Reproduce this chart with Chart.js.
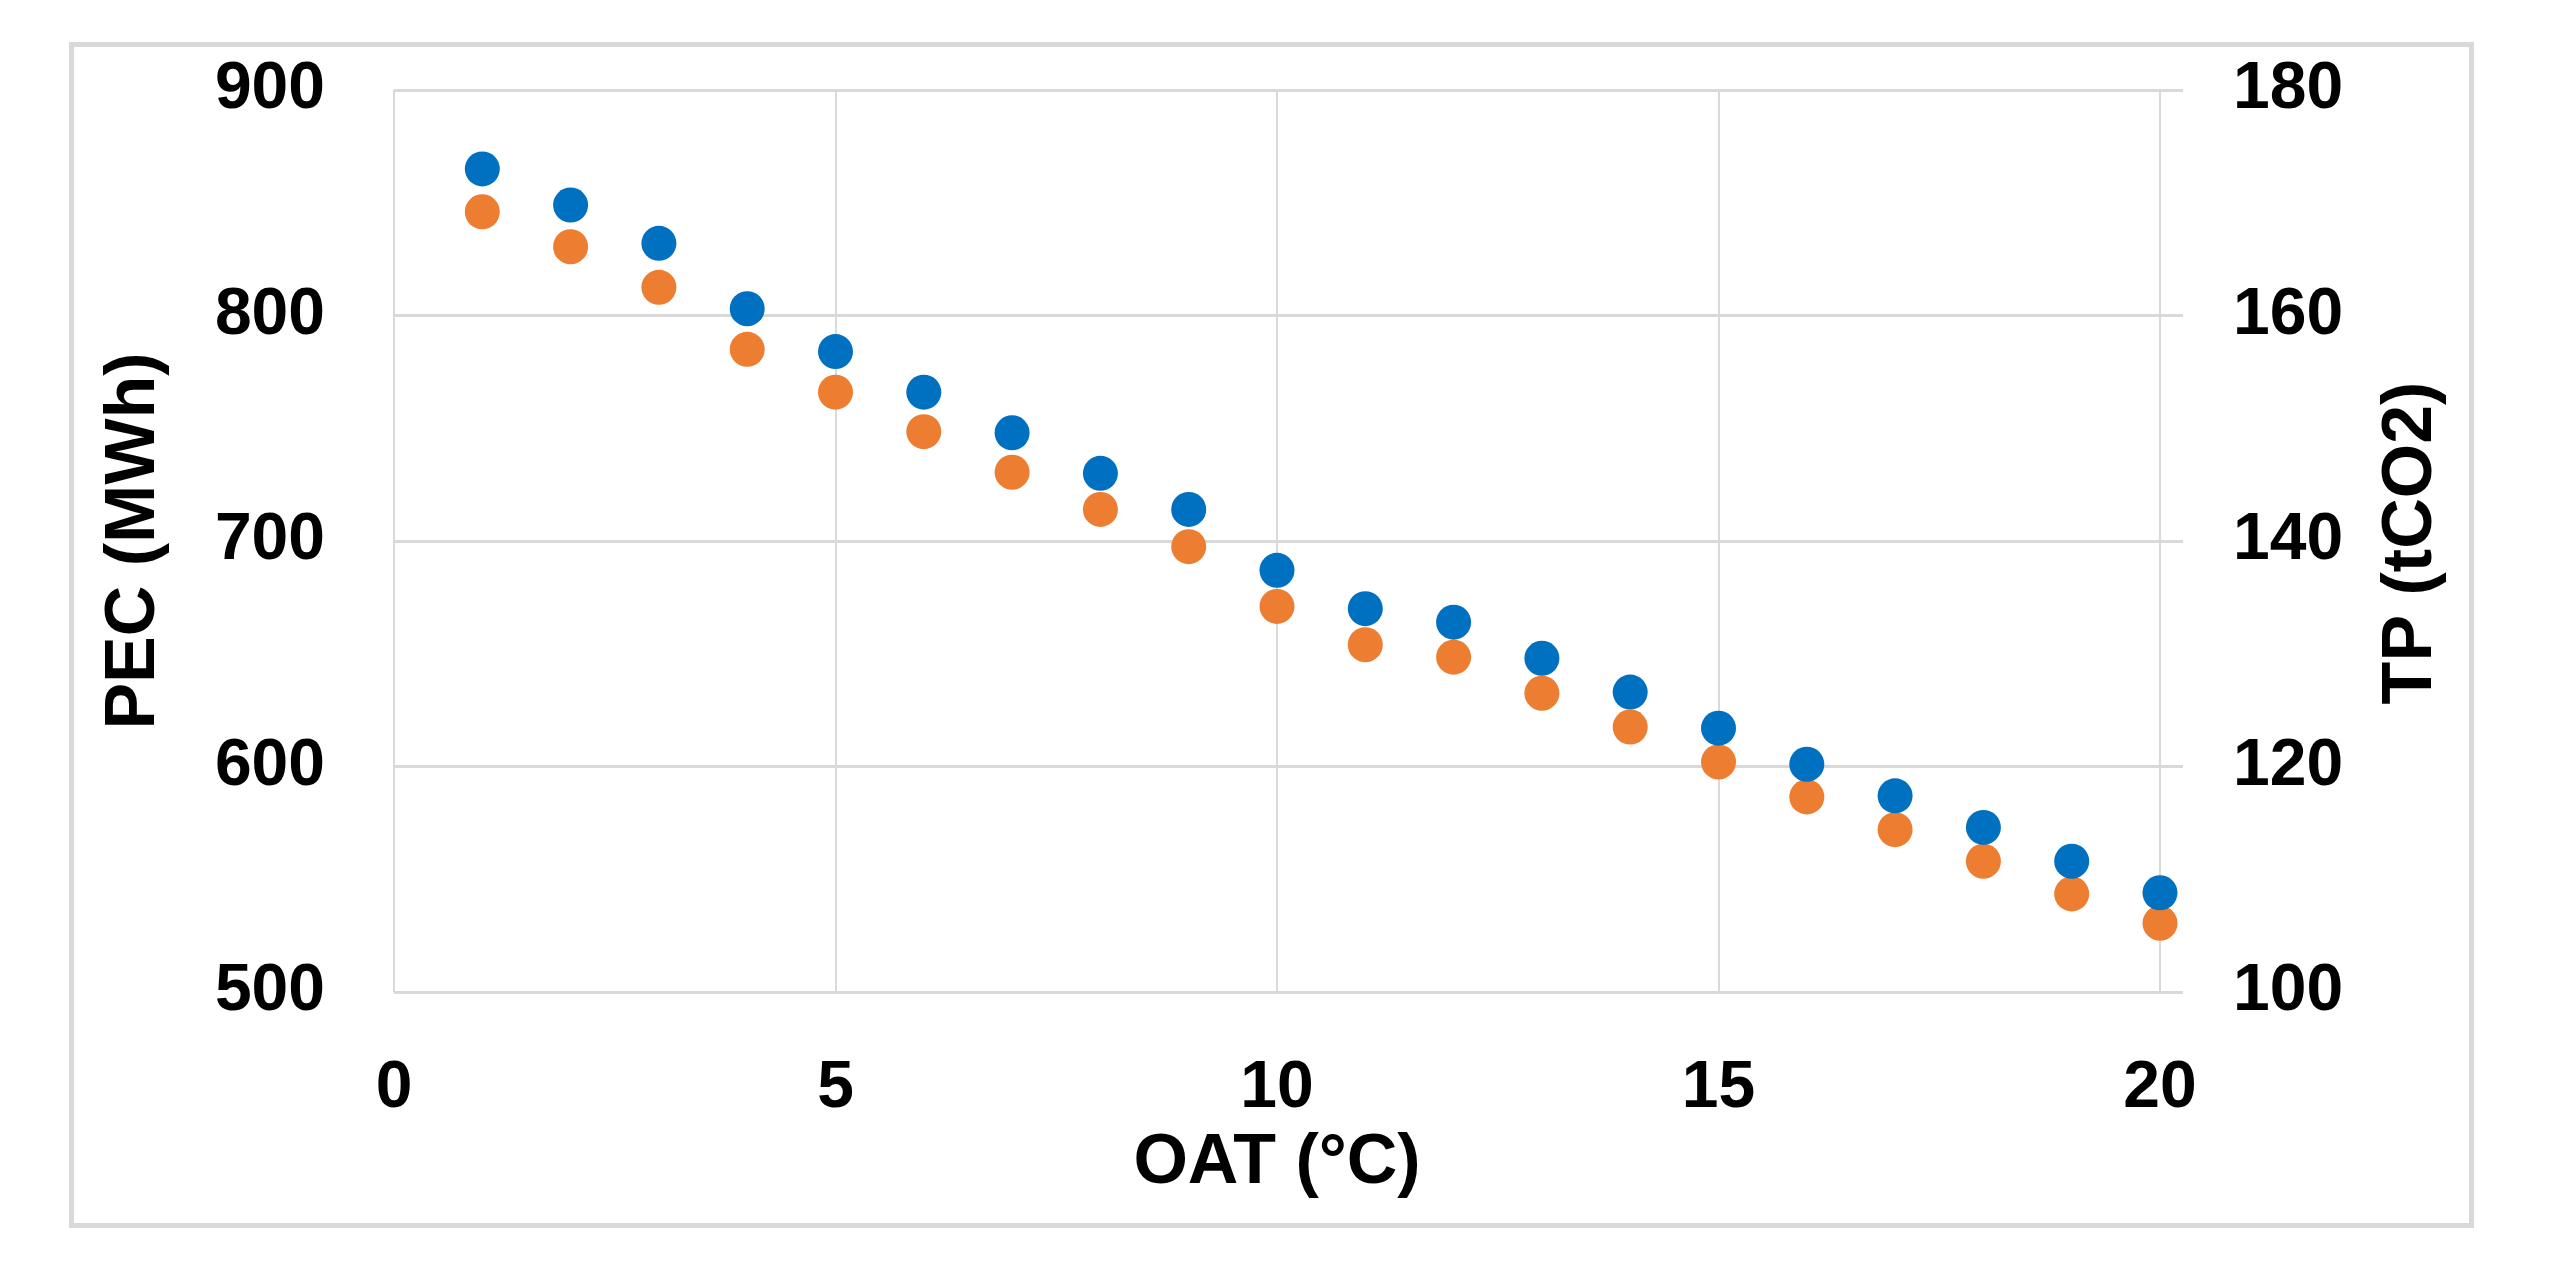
<!DOCTYPE html>
<html>
<head>
<meta charset="utf-8">
<script src="https://cdn.jsdelivr.net/npm/chart.js@4.4.1/dist/chart.umd.min.js"></script>
<style>
  html, body { margin: 0; padding: 0; background: #ffffff; }
  #wrap { position: relative; width: 2558px; height: 1266px; }
  #frame { position: absolute; left: 69px; top: 42px; width: 2405px; height: 1186px;
           border: 5px solid #d9d9d9; box-sizing: border-box; pointer-events: none; }
  canvas { position: absolute; left: 0; top: 0; }
</style>
</head>
<body>
<div id="wrap">
  <canvas id="c" width="2558" height="1266"></canvas>
  <div id="frame"></div>
</div>
<script>
// ---- data ----
const oat = [1, 2, 3, 4, 5, 6, 7, 8, 9, 10, 11, 12, 13, 14, 15, 16, 17, 18, 19, 20];
const pec = [865, 849, 832, 803, 784, 766, 748, 730, 714, 687, 670, 664, 648, 633, 617, 601, 587, 573, 558, 544];
const tp  = [169.2, 166.1, 162.5, 157.0, 153.2, 149.7, 146.1, 142.8, 139.5, 134.2, 130.8, 129.7, 126.5, 123.5, 120.4, 117.3, 114.4, 111.6, 108.7, 106.1];

const xTitle = 'OAT (°C)';
const yLeftTitle = 'PEC (MWh)';
const yRightTitle = 'TP (tCO2)';
const xRange = { min: 0, max: 20, step: 5 };
const pecRange = { min: 500, max: 900, step: 100 };
const tpRange = { min: 100, max: 180, step: 20 };

const FONT = '"Liberation Sans", Arial, sans-serif';
const GRID = '#d9d9d9';

const pecPts = oat.map((x, i) => ({ x: x, y: pec[i] }));
const tpPts = oat.map((x, i) => ({ x: x, y: tp[i] }));

const rightTitlePlugin = {
  id: 'rightTitle',
  afterDraw(chart) {
    const s = chart.scales.y1;
    const ctx = chart.ctx;
    ctx.save();
    ctx.translate(s.right - 146, (s.top + s.bottom) / 2 + 2);
    ctx.rotate(-Math.PI / 2);
    ctx.font = 'bold 70px ' + FONT;
    ctx.fillStyle = '#000000';
    ctx.textAlign = 'center';
    ctx.textBaseline = 'middle';
    ctx.fillText(yRightTitle, 0, 0);
    ctx.restore();
  }
};

new Chart(document.getElementById('c'), {
  type: 'scatter',
  data: {
    datasets: [
      { label: 'PEC', data: pecPts, yAxisID: 'y', backgroundColor: '#0070C0',
        borderWidth: 0, pointRadius: 17.5, pointHoverRadius: 17.5, order: 0, clip: false },
      { label: 'TP', data: tpPts, yAxisID: 'y1', backgroundColor: '#ED7D31',
        borderWidth: 0, pointRadius: 17.5, pointHoverRadius: 17.5, order: 1, clip: false }
    ]
  },
  options: {
    responsive: false,
    animation: false,
    events: [],
    layout: { padding: { top: 90, left: 0, right: 0, bottom: 0 } },
    plugins: { legend: { display: false }, tooltip: { enabled: false } },
    scales: {
      x: {
        type: 'linear', position: 'bottom',
        min: xRange.min, max: xRange.max,
        ticks: { stepSize: xRange.step, padding: 57, color: '#000',
                 font: { family: FONT, size: 66, weight: 'bold' } },
        grid: { color: GRID, lineWidth: 2, drawTicks: false },
        border: { display: false },
        title: { display: true, text: xTitle, color: '#000',
                 font: { family: FONT, size: 70, weight: 'bold' },
                 padding: { top: 0, bottom: 60 } },
        afterFit(scale) { scale.height = 274; scale.paddingLeft = 0; scale.paddingRight = 0; }
      },
      y: {
        type: 'linear', position: 'left',
        min: pecRange.min, max: pecRange.max,
        ticks: { stepSize: pecRange.step, padding: 69, color: '#000',
                 font: { family: FONT, size: 66, weight: 'bold' } },
        grid: { color: GRID, lineWidth: 3, drawTicks: false },
        border: { display: false },
        title: { display: true, text: yLeftTitle, color: '#000',
                 font: { family: FONT, size: 70, weight: 'bold' },
                 padding: { top: 93, bottom: 0 } },
        afterFit(scale) { scale.width = 394; scale.paddingTop = 0; scale.paddingBottom = 0; }
      },
      y1: {
        type: 'linear', position: 'right',
        min: tpRange.min, max: tpRange.max,
        ticks: { stepSize: tpRange.step, padding: 50, color: '#000',
                 font: { family: FONT, size: 66, weight: 'bold' } },
        grid: { color: GRID, lineWidth: 3, drawOnChartArea: false, drawTicks: true,
                tickLength: 23, tickColor: GRID, tickWidth: 3 },
        border: { display: false },
        title: { display: false },
        afterFit(scale) { scale.width = 398; scale.paddingTop = 0; scale.paddingBottom = 0; }
      }
    }
  },
  plugins: [rightTitlePlugin]
});
</script>
</body>
</html>
